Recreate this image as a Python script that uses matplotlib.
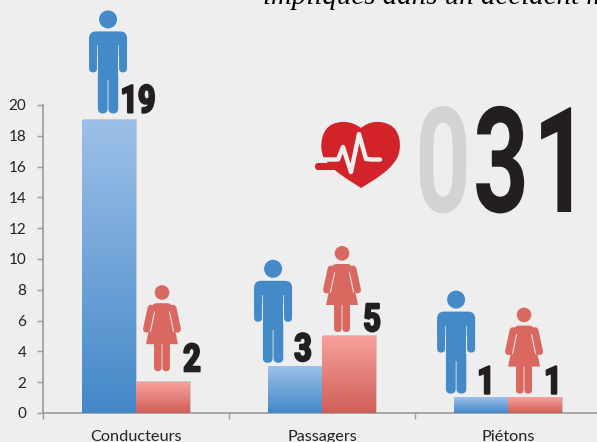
import matplotlib
matplotlib.use("Agg")
import numpy as np
import matplotlib.pyplot as plt
import matplotlib.patheffects as pe
from matplotlib.colors import LinearSegmentedColormap
from matplotlib.patches import FancyBboxPatch, Circle, Polygon, PathPatch, Rectangle
from matplotlib.path import Path
from matplotlib.transforms import Affine2D

categories = ["Conducteurs", "Passagers", "Piétons"]
hommes = [19, 3, 1]
femmes = [2, 5, 1]
y_ticks = list(range(0, 21, 2))
title_text = "impliqués dans un accident mortel"
big_digits = ["0", "3", "1"]

BG = "#EEEEEE"
BLUE = "#448AC8"
RED = "#D96860"
INK = "#231F20"
W, H = 597, 442


class Condense(pe.AbstractPathEffect):
    """Squeeze a text's glyphs horizontally around its anchor, with an optional outline."""

    def __init__(self, sx, anchor_px, stroke=0.0):
        super().__init__()
        self.sx, self.anchor, self.stroke = sx, anchor_px, stroke

    def draw_path(self, renderer, gc, tpath, affine, rgbFace=None):
        aff = affine + Affine2D().translate(-self.anchor, 0).scale(self.sx, 1).translate(self.anchor, 0)
        gc0 = renderer.new_gc()
        gc0.copy_properties(gc)
        gc0.set_linewidth(self.stroke)
        if self.stroke:
            gc0.set_foreground(rgbFace)
        renderer.draw_path(gc0, tpath, aff, rgbFace)
        gc0.restore()


fig = plt.figure(figsize=(W / 100, H / 100), dpi=100, facecolor=BG)
ax = fig.add_axes([43 / W, (H - 413) / H, (W - 43) / W, 308 / H], facecolor=BG)
ax.set_xlim(-0.5, 2.478)
ax.set_ylim(0, 20)
for s in ("top", "right"):
    ax.spines[s].set_visible(False)
for s in ("left", "bottom"):
    ax.spines[s].set_color("#9A9A9A")
    ax.spines[s].set_linewidth(1.2)
ax.set_yticks(y_ticks)
ax.set_xticks(np.arange(-0.5, 2.5, 1))
ax.set_xticklabels([])
ax.tick_params(axis="y", length=4.5, width=1, color="#9A9A9A", labelsize=11,
               labelcolor="#222222", pad=7.5)
ax.tick_params(axis="x", length=4, width=1, color="#9A9A9A")
for lab in ax.get_yticklabels():
    lab.set_fontfamily("Lato")

x = np.arange(len(categories))
bw = 0.29
blue_cm = LinearSegmentedColormap.from_list("b", ["#9CC0E8", "#4488C8"])
red_cm = LinearSegmentedColormap.from_list("r", ["#F8A09C", "#CF5F58"])
grad = np.linspace(0, 1, 128).reshape(-1, 1)


def gradient_bars(xs, vals, cmap):
    bars = ax.bar(xs, vals, width=bw, color="none", linewidth=0, zorder=3)
    for b in bars:
        x0, w, h = b.get_x(), b.get_width(), b.get_height()
        ax.add_patch(Rectangle((x0 + 0.006, 0), w, h + 0.06, fc="#C8C8C8", ec="none", zorder=2.5))
        ax.imshow(grad, cmap=cmap, extent=(x0, x0 + w, 0, h), aspect="auto",
                  origin="upper", zorder=3, interpolation="bilinear")
    return bars


gradient_bars(x - bw / 2, hommes, blue_cm)
gradient_bars(x + bw / 2, femmes, red_cm)
ax.set_xlim(-0.5, 2.478)
ax.set_ylim(0, 20)

for xi, c in zip(x, categories):
    ax.annotate(c, (xi, 0), xytext=(0, -28), textcoords="offset pixels", ha="center", va="baseline",
                fontsize=11.7, family="Lato", color="#222222", annotation_clip=False)

fig.canvas.draw()
deco = fig.add_axes([0, 0, 1, 1], facecolor="none")
deco.set_xlim(0, W)
deco.set_ylim(H, 0)
deco.axis("off")


def rrect(x0, y0, x1, y1, r, c, z=5):
    deco.add_patch(FancyBboxPatch((x0 + r, y0 + r), x1 - x0 - 2 * r, y1 - y0 - 2 * r,
                                  boxstyle=f"round,pad={r},rounding_size={r}",
                                  fc=c, ec="none", zorder=z))


def top_left(xd, yd):
    dx, dy = ax.transData.transform((xd, yd))
    return dx, H - dy


def man(cx, feet):
    top = feet - 103
    deco.add_patch(Circle((cx, top + 9), 9, fc=BLUE, ec="none", zorder=5))
    rrect(cx - 19, top + 21, cx + 19, top + 45, 7, BLUE)
    rrect(cx - 19, top + 30, cx - 11, top + 62, 4, BLUE)
    rrect(cx + 11, top + 30, cx + 19, top + 62, 4, BLUE)
    deco.add_patch(Rectangle((cx - 10.2, top + 30), 20.4, 40, fc=BLUE, ec="none", zorder=5))
    rrect(cx - 10.2, top + 60, cx - 0.4, top + 103, 4.8, BLUE)
    rrect(cx + 0.4, top + 60, cx + 10.2, top + 103, 4.8, BLUE)
    for sx in (-1, 1):
        deco.add_patch(Rectangle((cx + sx * 10.6 - 0.5, top + 35), 1, 27, fc=BG, ec="none", zorder=6, alpha=0.7))


def woman(cx, feet):
    top = feet - 86
    deco.add_patch(Circle((cx, top + 7.3), 7.3, fc=RED, ec="none", zorder=5))
    rrect(cx - 10, top + 18, cx + 10, top + 30, 5, RED)
    deco.add_patch(Polygon([(cx - 8, top + 20), (cx + 8, top + 20), (cx + 16, top + 59), (cx - 16, top + 59)],
                           fc=RED, ec="none", zorder=5))
    for sx in (-1, 1):
        deco.plot([cx + sx * 11, cx + sx * 15.5], [top + 23, top + 44], color=RED, lw=5.0,
                  solid_capstyle="round", zorder=5)
        deco.plot([cx + sx * 7.5, cx + sx * 11.5], [top + 27, top + 46], color=BG, lw=0.8, alpha=0.9, zorder=6)
    rrect(cx - 8, top + 55, cx - 0.4, top + 86, 3.8, RED)
    rrect(cx + 0.4, top + 55, cx + 8, top + 86, 3.8, RED)


# icon and label offsets (px) from top-centre of each bar
man_off = [(-1, -7), (-22, -4), (-25, -4)]
woman_off = [(-1, -11), (-7, -4), (-11, -4)]
man_lab = [(29, -8), (8, -6), (5, -4)]
woman_lab = [(29, -11), (23, -5), (18, -4)]


def number(px, py, s):
    deco.text(px, py, s, family="Roboto", weight="bold", fontsize=27.5, color=INK,
              ha="center", va="baseline", zorder=7,
              path_effects=[Condense(0.8, px, stroke=1.6)])


for i in x:
    bx, by = top_left(i - bw / 2, hommes[i])
    man(bx + man_off[i][0], by + man_off[i][1])
    number(bx + man_lab[i][0], by + man_lab[i][1], str(hommes[i]))
    bx, by = top_left(i + bw / 2, femmes[i])
    woman(bx + woman_off[i][0], by + woman_off[i][1])
    number(bx + woman_lab[i][0], by + woman_lab[i][1], str(femmes[i]))

# heart
HC = "#D2232A"
verts = [(361, 128), (352, 121), (340, 120), (331, 125), (322, 130), (319, 145), (323, 156),
         (330, 170), (349, 180), (361, 188), (374, 180), (392, 170), (398, 156),
         (402, 146), (400, 130), (390, 125), (381, 120), (369, 121), (361, 128)]
codes = [Path.MOVETO] + [Path.CURVE4] * 18
deco.add_patch(PathPatch(Path(verts, codes), fc=HC, ec="none", zorder=5))
deco.plot([324, 338, 343, 351, 359, 366, 372, 380], [159.5, 159.5, 147, 172, 134, 159, 159.5, 159.5],
          color=BG, lw=3.2, solid_capstyle="round", solid_joinstyle="round", zorder=6)
rrect(315, 163, 337, 170, 3.5, HC, z=7)

# big number
for d, cx, col in zip(big_digits, [443, 501, 561], ["#D1D3D4", INK, INK]):
    deco.text(cx, 212, d, family="Roboto", weight="bold", fontsize=106, color=col,
              ha="center", va="baseline", zorder=5,
              path_effects=[Condense(0.66, cx, stroke=0.0)])

deco.text(263, 4.5, title_text, family="Liberation Serif", style="italic", fontsize=20.8, color="black",
          ha="left", va="baseline", zorder=5)

fig.savefig("out.png", dpi=100, facecolor=BG)
